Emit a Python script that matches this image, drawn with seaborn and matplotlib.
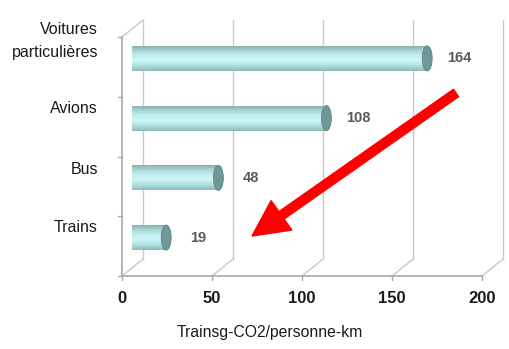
import numpy as np
import pandas as pd
import matplotlib
matplotlib.use("Agg")
import matplotlib.pyplot as plt
import matplotlib.transforms as mtransforms
from matplotlib.patches import Ellipse, FancyArrow
from matplotlib.colors import LinearSegmentedColormap
import seaborn as sns

# Emissions per passenger-km by transport mode
modes = ["Voitures\nparticulières", "Avions", "Bus", "Trains"]
emissions = [164, 108, 48, 19]
x_ticks = [0, 50, 100, 150, 200]
x_label = "Trainsg-CO2/personne-km"

df = pd.DataFrame({"mode": modes, "co2": emissions})

sns.set_theme(style="white")
plt.rcParams["font.family"] = ["Liberation Sans", "DejaVu Sans"]

W, H, DPI = 509, 349, 100
fig = plt.figure(figsize=(W / DPI, H / DPI), dpi=DPI)
ax = fig.add_axes([122 / W, 73 / H, 360 / W, 239 / H])

sns.barplot(data=df, y="mode", x="co2", orient="h", width=0.42,
            color="#c8f0f0", ax=ax, zorder=3)

ax.set_xlim(0, 200)
ax.set_ylim(len(modes) - 0.5, -0.5)
for s in ax.spines.values():
    s.set_visible(False)
ax.set_xticks(x_ticks)
ax.set_xticklabels([str(t) for t in x_ticks], fontsize=12, fontweight="bold",
                   color="#1a1a1a")
ax.tick_params(axis="x", length=0, pad=11)
ax.set_yticks([])
ax.set_ylabel("")
ax.set_xlabel("")

# depth offsets for the pseudo-3D frame
back = ax.transData + mtransforms.ScaledTranslation(0.21, 0.17, fig.dpi_scale_trans)
mid = ax.transData + mtransforms.ScaledTranslation(0.10, 0.085, fig.dpi_scale_trans)

grid_c = "#c8c8c8"
axis_c = "#a8a8a8"
y0, y1 = len(modes) - 0.5, -0.5

# back wall gridlines
for t in x_ticks:
    ax.plot([t, t], [y0, y1], color=grid_c, lw=1.0, transform=back, zorder=1,
            clip_on=False)

# floor diagonals joining front ticks to the back wall
dx_d, dy_d = 21 / 1.8, -17 / 60.0
for t in x_ticks:
    ax.plot([t, t + dx_d], [y0, y0 + dy_d], color=grid_c, lw=1.0, zorder=1,
            clip_on=False)
ax.plot([0, dx_d], [y1, y1 + dy_d], color=grid_c, lw=1.0, zorder=1, clip_on=False)

# front axes lines and ticks
ax.plot([0, 0], [y0, y1], color=axis_c, lw=1.2, zorder=2, clip_on=False)
ax.plot([0, 200], [y0, y0], color=axis_c, lw=1.2, zorder=2, clip_on=False)
for b in np.arange(-0.5, len(modes), 1.0):
    ax.plot([-2.2, 0], [b, b], color=axis_c, lw=1.0, clip_on=False, zorder=2)
for t in x_ticks:
    ax.plot([t, t], [y0, y0 + 0.06], color=axis_c, lw=1.0, clip_on=False, zorder=2)

# cylinder shading for the bars
cyl = LinearSegmentedColormap.from_list(
    "cyl", ["#8fb8b8", "#b0e0e0", "#cdf5f5", "#c2eeee", "#a6d3d3", "#86a8a8"])
grad = np.linspace(0, 1, 64).reshape(-1, 1)
for patch, val in zip(ax.patches, emissions):
    patch.set_transform(mid)
    patch.set_edgecolor("none")
    x, yb = patch.get_x(), patch.get_y()
    w, h = patch.get_width(), patch.get_height()
    im = ax.imshow(grad, cmap=cyl, aspect="auto", extent=[x, x + w, yb, yb + h],
                   origin="upper", zorder=4, transform=mid)
    im.set_clip_path(patch)
    cap = Ellipse((x + w, yb + h / 2), width=5.5, height=h, facecolor="#6f9999",
                  edgecolor="#5d8585", lw=0.6, transform=mid, zorder=5)
    ax.add_patch(cap)
    ax.text(x + w + 18, yb + h / 2, str(val), transform=mid, ha="center",
            va="center", fontsize=10.5, fontweight="bold", color="#5a5a5a", zorder=6)

ax.set_xlim(0, 200)
ax.set_ylim(y0, y1)

# category labels
label_y = [41, 108, 170, 228]
for name, yy in zip(modes, label_y):
    fig.text(98 / W, 1 - yy / H, name, ha="right", va="center", fontsize=11.5,
             color="#1a1a1a", linespacing=1.7)

# axis title
fig.text(270 / W, 1 - 333 / H, x_label, ha="center", va="center", fontsize=11.3,
         color="#1a1a1a")

# red arrow pointing to the low-emission modes
px = mtransforms.Affine2D().scale(1 / W, -1 / H).translate(0, 1) + fig.transFigure
tail = np.array([456.0, 93.0])
tip = np.array([252.0, 236.0])
d = tip - tail
arrow = FancyArrow(tail[0], tail[1], d[0], d[1], width=9, head_width=36,
                   head_length=36, length_includes_head=True, color="#ff0000",
                   transform=px, zorder=10)
fig.patches.append(arrow)

fig.savefig("out.png", dpi=DPI, facecolor="white")
